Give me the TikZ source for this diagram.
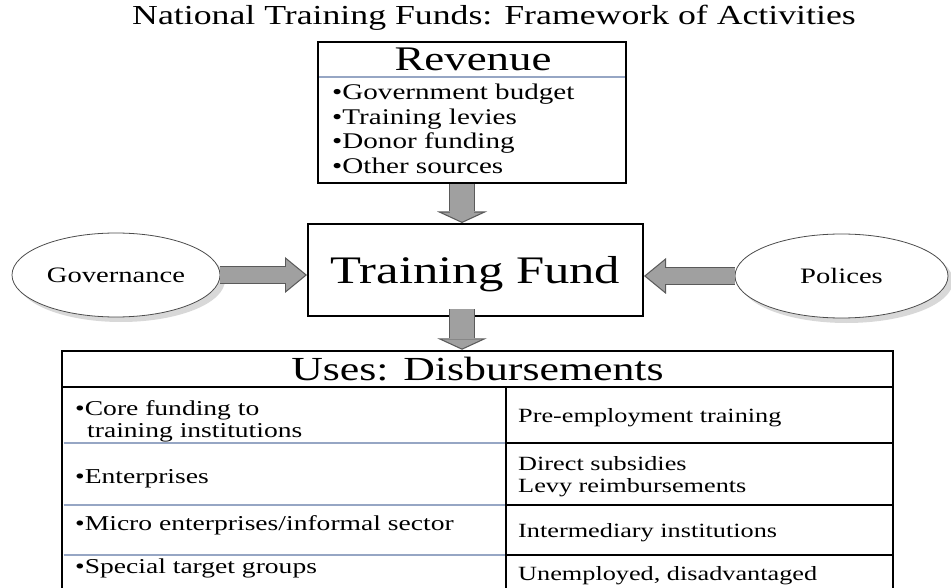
\documentclass[tikz,border=0pt]{standalone}
\usepackage{fontspec}
\setmainfont{Liberation Serif}[FakeStretch=1.3]
\usetikzlibrary{arrows.meta,shapes.geometric,shadows}

\definecolor{arrowfill}{RGB}{160,160,160}
\definecolor{arrowline}{RGB}{90,90,90}
\definecolor{sepblue}{RGB}{150,166,196}

\tikzset{
  box/.style={shape=rectangle,draw=black,line width=2pt,fill=white},
  oval/.style={shape=ellipse,draw=black!70,line width=0.8pt,fill=white,
    minimum height=84pt,text depth=0pt,font=\fontsize{22}{24}\selectfont,
    drop shadow={shadow xshift=5pt,shadow yshift=-5pt,fill=black!30,opacity=0.5}},
  heading/.style={anchor=base,inner sep=0pt,font=\fontsize{27.5}{30}\selectfont},
  revitem/.style={anchor=base west,inner sep=0pt,font=\fontsize{22.4}{24}\selectfont},
  leftcell/.style={anchor=base west,inner sep=0pt,font=\fontsize{21.2}{23}\selectfont},
  rightcell/.style={anchor=base west,inner sep=0pt,font=\fontsize{20.2}{22}\selectfont},
  sepline/.style={draw=sepblue,line width=1.3pt},
  tableline/.style={draw=black,line width=2.5pt},
  downarrow/.style={draw=none,
    preaction={draw=arrowline,line width=26pt,-{Triangle[width=50pt,length=11.5pt,line width=0pt]}},
    postaction={draw=arrowfill,line width=23.6pt,shorten >=1.3pt,-{Triangle[width=39pt,length=9pt,line width=0pt]}}},
  sidearrow/.style={draw=none,
    preaction={draw=arrowline,line width=18pt,-{Triangle[width=36pt,length=22pt,line width=0pt]}},
    postaction={draw=arrowfill,line width=15.6pt,shorten >=1.9pt,-{Triangle[width=31pt,length=18.9pt,line width=0pt]}}}
}

\begin{document}
\begin{tikzpicture}[x=1pt,y=-1pt]
\useasboundingbox (0,0) rectangle (951,588);

\node[heading] (title) at (494,25) {National Training Funds: Framework of Activities};

% revenue box
\node[box,minimum width=308pt,minimum height=141pt] (rev) at (472,112.5) {};
\draw[sepline] (319,77) -- (625,77);
\node[anchor=base,inner sep=0pt,font=\fontsize{34.5}{36}\selectfont] (revhead) at (473,71) {Revenue};
\node[revitem] (r1) at (332,100) {•Government budget};
\node[revitem] (r2) at (332,124.5) {•Training levies};
\node[revitem] (r3) at (332,149) {•Donor funding};
\node[revitem] (r4) at (332,173.5) {•Other sources};

% fund and the two side ovals
\node[box,minimum width=335pt,minimum height=92pt,text depth=0pt,font=\fontsize{39}{42}\selectfont] (fund) at (475.5,270) {Training Fund};
\node[oval,minimum width=208pt] (gov) at (116,275) {Governance};
\node[oval,minimum width=213pt] (pol) at (841.5,276) {Polices};

% uses table
\node[box,line width=2.5pt,minimum width=831pt,minimum height=36pt,font=\fontsize{33.7}{36}\selectfont] (uses) at (477.5,369) {Uses: Disbursements};
\draw[tableline] (62,387) -- (62,600);
\draw[tableline] (893,387) -- (893,600);
\draw[tableline] (506,387) -- (506,600);
\draw[sepline] (63.5,443) -- (504.5,443);
\draw[sepline] (63.5,505) -- (504.5,505);
\draw[sepline] (63.5,555) -- (504.5,555);
\draw[tableline] (506,443) -- (893,443);
\draw[tableline] (506,505) -- (893,505);
\draw[tableline] (506,555) -- (893,555);

\node[leftcell] (c1) at (75,415) {•Core funding to};
\node[leftcell] (c1b) at (87,437) {training institutions};
\node[leftcell] (c2) at (75,483) {•Enterprises};
\node[leftcell] (c3) at (75,530) {•Micro enterprises/informal sector};
\node[leftcell] (c4) at (75,573) {•Special target groups};
\node[rightcell] (d1) at (518,422) {Pre-employment training};
\node[rightcell] (d2) at (518,470) {Direct subsidies};
\node[rightcell] (d2b) at (518,492) {Levy reimbursements};
\node[rightcell] (d3) at (518,537) {Intermediary institutions};
\node[rightcell] (d4) at (518,580) {Unemployed, disadvantaged};

% block arrows
\path[downarrow] ([xshift=-10pt]rev.south) -- ([xshift=-10pt]rev.south |- fund.north);
\path[downarrow] ([xshift=-13.5pt,yshift=8pt]fund.south) -- ([xshift=-13.5pt]fund.south |- uses.north);
\path[sidearrow] (gov.east) -- (gov.east -| fund.west);
\path[sidearrow] (pol.west) -- (pol.west -| fund.east);
\end{tikzpicture}
\end{document}
